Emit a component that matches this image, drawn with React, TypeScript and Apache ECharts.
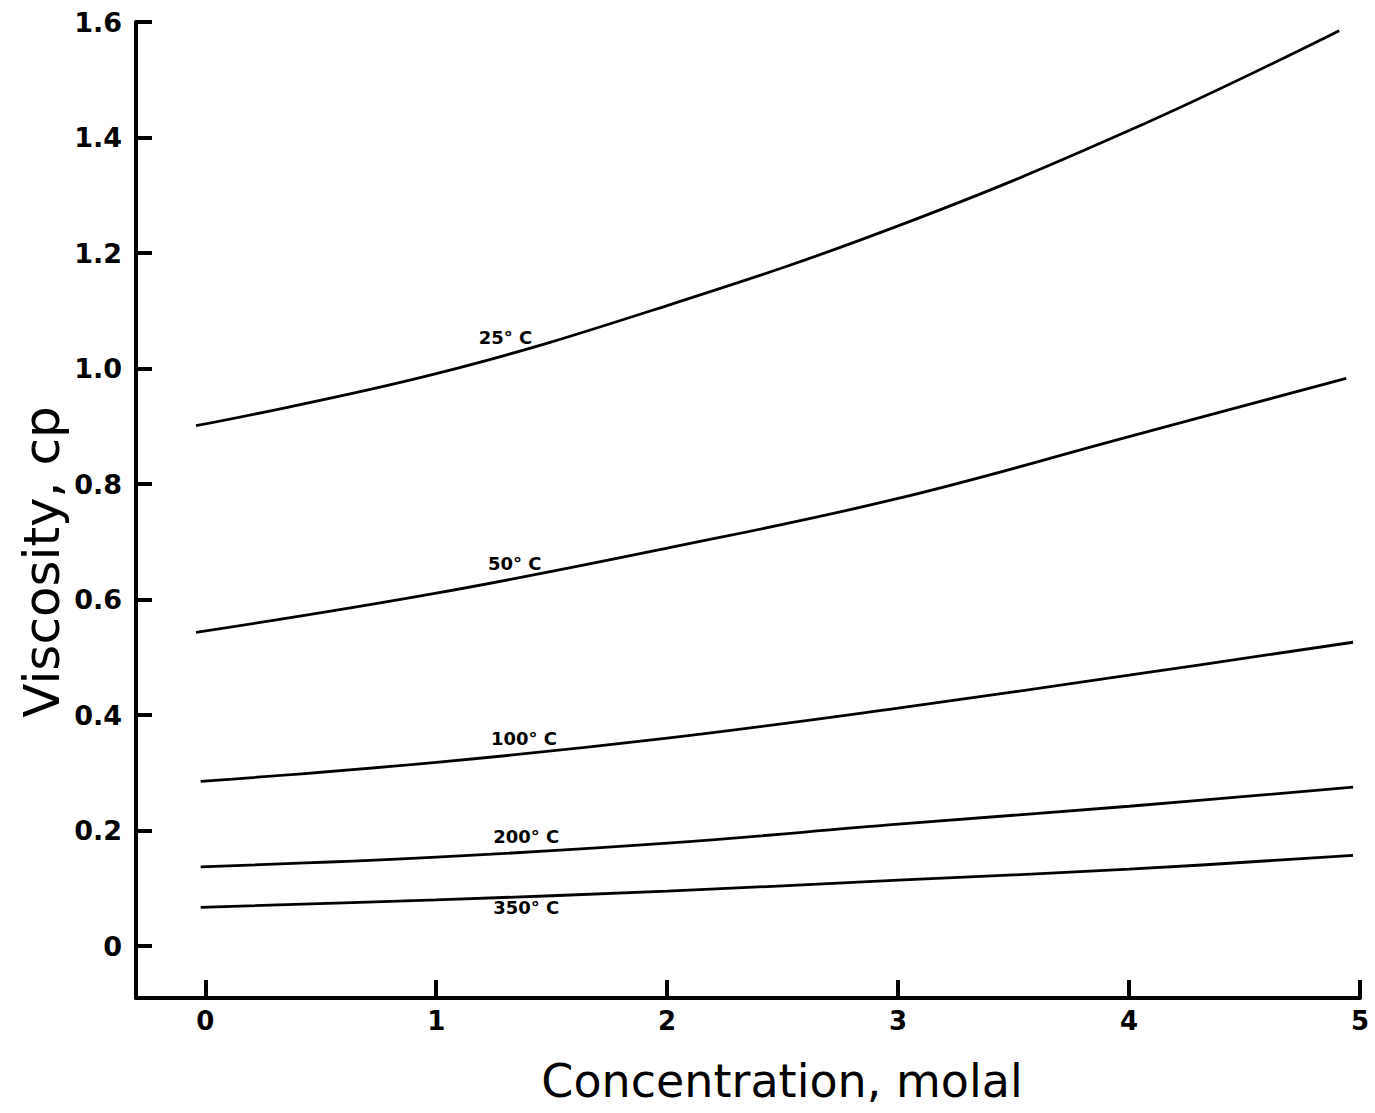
import React, { useEffect, useRef } from "react";
import * as echarts from "echarts";

// Concentration (molal) and viscosity (cp)
const conc25 = [-0.04, 1, 2, 3, 4, 4.91];
const visc25 = [0.901, 0.991, 1.109, 1.247, 1.412, 1.585];
const conc50 = [-0.04, 1, 2, 3, 4, 4.94];
const visc50 = [0.543, 0.611, 0.689, 0.775, 0.882, 0.983];
const conc100 = [-0.02, 1, 2, 3, 4, 4.97];
const visc100 = [0.285, 0.318, 0.36, 0.412, 0.469, 0.526];
const conc200 = [-0.02, 1, 2, 3, 4, 4.97];
const visc200 = [0.137, 0.154, 0.178, 0.211, 0.242, 0.275];
const conc350 = [-0.02, 1, 2, 3, 4, 4.97];
const visc350 = [0.067, 0.08, 0.095, 0.114, 0.133, 0.157];

const curveNames = ["25° C", "50° C", "100° C", "200° C", "350° C"];
const labelConc = [1.3, 1.34, 1.38, 1.39, 1.39];
const labelVisc = [1.054, 0.663, 0.36, 0.19, 0.066];

const xTitle = "Concentration, molal";
const yTitle = "Viscosity, cp";

const zip = (xs: number[], ys: number[]) => xs.map((x, i) => [x, ys[i]]);

export default function App() {
  const ref = useRef<HTMLDivElement>(null);
  useEffect(() => {
    if (!ref.current) return;
    const chart = echarts.init(ref.current, null, { renderer: "svg" });
    const curves = [
      zip(conc25, visc25),
      zip(conc50, visc50),
      zip(conc100, visc100),
      zip(conc200, visc200),
      zip(conc350, visc350),
    ];
    const font = "DejaVu Sans";
    const series: any[] = curves.map((d, i) => ({
      type: "line",
      name: curveNames[i],
      data: d,
      smooth: 0.4,
      symbol: "none",
      lineStyle: { color: "#000", width: 2.8 },
      markPoint: {
        symbol: "circle",
        symbolSize: 2,
        itemStyle: { color: "rgba(0,0,0,0)" },
        data: [
          {
            coord: [labelConc[i], labelVisc[i]],
            label: {
              show: true,
              formatter: curveNames[i],
              color: "#000",
              fontFamily: font,
              fontWeight: "bold",
              fontSize: 18,
              position: "inside",
            },
          },
        ],
      },
    }));
    chart.setOption({
      animation: false,
      backgroundColor: "#fff",
      grid: { left: 136, right: 15, top: 22, bottom: 115 },
      xAxis: {
        type: "value",
        min: -0.3,
        max: 5,
        splitNumber: 5,
        axisLine: { show: true, onZero: false, lineStyle: { color: "#000", width: 4 } },
        axisTick: { show: true, inside: true, length: 18, lineStyle: { color: "#000", width: 4 } },
        axisLabel: {
          showMinLabel: false,
          margin: 10,
          color: "#000",
          fontFamily: font,
          fontWeight: "bold",
          fontSize: 26,
          formatter: (v: number) => (Math.abs(v - Math.round(v)) < 1e-6 ? String(Math.round(v)) : ""),
        },
        splitLine: { show: false },
      },
      yAxis: {
        type: "value",
        min: -0.09,
        max: 1.6,
        splitNumber: 8,
        axisLine: { show: true, onZero: false, lineStyle: { color: "#000", width: 4 } },
        axisTick: { show: true, inside: true, length: 16, lineStyle: { color: "#000", width: 4 } },
        axisLabel: {
          showMinLabel: false,
          margin: 14,
          color: "#000",
          fontFamily: font,
          fontWeight: "bold",
          fontSize: 27,
          formatter: (v: number) => {
            const r = Math.round(v * 5) / 5;
            if (Math.abs(v - r) > 1e-6) return "";
            return r === 0 ? "0" : r.toFixed(1);
          },
        },
        splitLine: { show: false },
      },
      graphic: [
        {
          type: "text",
          x: 42,
          y: 562,
          rotation: Math.PI / 2,
          style: {
            text: yTitle,
            fill: "#000",
            font: `50px "${font}"`,
            align: "center",
            verticalAlign: "middle",
          },
        },
        {
          type: "text",
          x: 782,
          y: 1081,
          style: {
            text: xTitle,
            fill: "#000",
            font: `46px "${font}"`,
            align: "center",
            verticalAlign: "middle",
          },
        },
      ],
      series,
    });
    return () => chart.dispose();
  }, []);
  return (
    <div
      ref={ref}
      style={{ position: "fixed", left: 0, top: 0, width: 1375, height: 1113, background: "#fff" }}
    />
  );
}
